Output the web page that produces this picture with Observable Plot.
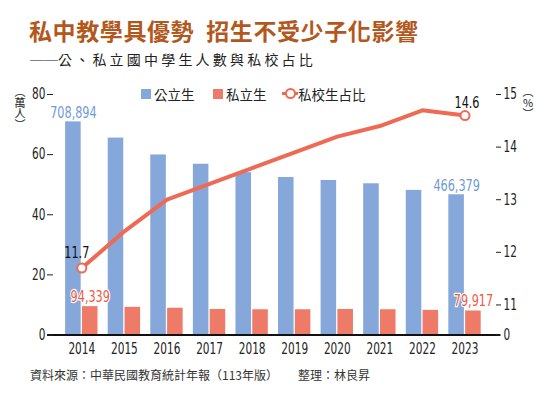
<!DOCTYPE html>
<html><head><meta charset="utf-8">
<script src="https://cdn.jsdelivr.net/npm/d3@7"></script>
<script src="https://cdn.jsdelivr.net/npm/@observablehq/plot@0.6"></script>
<style>
body{margin:0;background:#fff;width:550px;height:399px;position:relative;overflow:hidden;font-family:"Noto Sans CJK TC","Noto Sans",sans-serif;}
#title{position:absolute;left:29px;top:13px;font-size:23px;font-weight:700;color:#b3581d;letter-spacing:0.6px;white-space:nowrap;line-height:34px}
#title .gap{display:inline-block;width:12px}
#sub{position:absolute;left:30px;top:49px;font-size:14px;color:#222;letter-spacing:3.2px;line-height:20px;white-space:nowrap}
#sub .dash{letter-spacing:0}
#chart{position:absolute;left:0;top:72px}
.lg{position:absolute;font-size:13.5px;line-height:18px;top:85px;color:#222;white-space:nowrap}
.sw{position:absolute;width:10px;height:10px;top:89px}
#lineicon{position:absolute;left:282px;top:92px;width:16px;height:3px;background:#ee6a55}
#lineicon::after{content:"";position:absolute;left:3px;top:-4px;width:7px;height:7px;border:2px solid #ee6a55;border-radius:50%;background:#fff}
.vt{position:absolute;font-size:11px;line-height:14px;color:#222;writing-mode:vertical-rl;text-orientation:upright;white-space:nowrap}
#cap{position:absolute;left:30px;top:366px;font-size:12px;line-height:18px;color:#333;white-space:nowrap}
</style></head>
<body>
<div id="title"></div>
<div id="sub"></div>
<div id="chart"></div>
<div class="sw" style="left:141px;background:#86a7d9"></div>
<div class="lg" style="left:154px" id="lg1"></div>
<div class="sw" style="left:213px;background:#ee7a68"></div>
<div class="lg" style="left:226px" id="lg2"></div>
<div id="lineicon"></div>
<div class="lg" style="left:298px" id="lg3"></div>
<div class="vt" style="left:13px;top:86px" id="ylabL"></div>
<div class="vt" style="left:521px;top:86px" id="ylabR"></div>
<div id="cap"></div>
<script>
// ---- text ----
const titleParts = ["私中教學具優勢", "招生不受少子化影響"];
const subtitleDash = "──";
const subtitleText = "公、私立國中學生人數與私校占比";
const seriesNames = ["公立生", "私立生", "私校生占比"];
const leftUnit = "︵萬人︶";
const rightUnit = "︵%︶";
const sourceText = "資料來源：中華民國教育統計年報（113年版）";
const editorText = "整理：林良昇";

// ---- data ----
const years = [2014, 2015, 2016, 2017, 2018, 2019, 2020, 2021, 2022, 2023];
const publicStudents = [70.89, 65.5, 59.9, 56.8, 54.0, 52.4, 51.4, 50.3, 48.1, 46.64]; // 萬人
const privateStudents = [9.43, 9.2, 8.9, 8.5, 8.4, 8.4, 8.5, 8.4, 8.2, 7.99];         // 萬人
const privateShare = [11.7, 12.4, 13.0, 13.3, 13.6, 13.9, 14.2, 14.4, 14.7, 14.6];     // %
const publicLabels = ["708,894", "466,379"];
const privateLabels = ["94,339", "79,917"];
const leftTicks = [0, 20, 40, 60, 80];
const rightTicks = [11, 12, 13, 14, 15];

// colours
const BLUE = "#86a7d9", RED = "#ee7a68", LINE = "#ee6a55";
const BLUE_T = "#6f9ad6", RED_T = "#ef5a45";

document.getElementById("title").innerHTML = titleParts[0] + "<span class='gap'> </span>" + titleParts[1];
document.getElementById("sub").innerHTML = "<span class='dash'>" + subtitleDash + "</span>" + subtitleText;
document.getElementById("lg1").textContent = seriesNames[0];
document.getElementById("lg2").textContent = seriesNames[1];
document.getElementById("lg3").textContent = seriesNames[2];
document.getElementById("ylabL").textContent = leftUnit;
document.getElementById("ylabR").textContent = rightUnit;
document.getElementById("cap").innerHTML = sourceText + "<span style='margin-left:20px'>" + editorText + "</span>";

// right (broken) axis: 11% sits at 10 on the left scale, 15% at 80
const toLeft = p => 10 + (p - 11) * 17.5;
const fromLeft = v => v === 0 ? 0 : Math.round(11 + (v - 10) / 17.5);

const data = years.map((y, i) => ({year: y, pub: publicStudents[i], priv: privateStudents[i], share: privateShare[i]}));
const first = data[0], last = data[data.length - 1];
const pubLab = [first, last].map((d, i) => ({...d, label: publicLabels[i]}));
const privLab = [first, last].map((d, i) => ({...d, label: privateLabels[i]}));

const NUM = "'DejaVu Sans Condensed','DejaVu Sans',sans-serif";
const bw = 0.365, gap = 0.015;

const chart = Plot.plot({
  width: 550,
  height: 290,
  marginLeft: 53,
  marginRight: 55,
  marginTop: 22,
  marginBottom: 27.5,
  style: {fontFamily: NUM, fontSize: "14px", color: "#222", background: "transparent"},
  x: {type: "linear", domain: [2013.335, 2023.716]},
  y: {domain: [0, 80]},
  marks: [
    Plot.rectY(data, {x1: d => d.year - gap - bw, x2: d => d.year - gap, y: "pub", fill: BLUE}),
    Plot.rectY(data, {x1: d => d.year + gap, x2: d => d.year + gap + bw, y: "priv", fill: RED}),
    Plot.ruleY([0], {stroke: "#111", strokeWidth: 2, insetLeft: -6, insetRight: -5}),
    Plot.axisX({ticks: years, tickFormat: d => String(d), tickSize: 0, tickPadding: 8, fontSize: 15, label: null}),
    Plot.axisY({ticks: leftTicks, tickSize: 6, tickPadding: 2, fontSize: 15, label: null}),
    Plot.axisY({anchor: "right", ticks: [0, ...rightTicks.map(toLeft)], tickFormat: fromLeft, tickSize: 5, tickPadding: 3, fontSize: 15, label: null}),
    Plot.line(data, {x: "year", y: d => toLeft(d.share), stroke: LINE, strokeWidth: 4, strokeLinejoin: "round"}),
    Plot.dot([first, last], {x: "year", y: d => toLeft(d.share), r: 4.5, fill: "white", stroke: LINE, strokeWidth: 2}),
    Plot.text([first], {x: "year", y: d => toLeft(d.share), text: d => d.share.toFixed(1), fill: "#111", fontSize: 16, fontWeight: 500, dx: -5, dy: -15}),
    Plot.text([last], {x: "year", y: d => toLeft(d.share), text: d => d.share.toFixed(1), fill: "#111", fontSize: 16, fontWeight: 500, dx: 2, dy: -13}),
    Plot.text(pubLab, {x: d => d.year - gap - bw / 2, y: "pub", text: "label", fill: BLUE_T, fontSize: 16, dy: -9}),
    Plot.text(privLab, {x: d => d.year + gap + bw / 2, y: "priv", text: "label", fill: RED_T, fontSize: 16, dy: -10, stroke: "white", strokeWidth: 2.5})
  ]
});
document.getElementById("chart").appendChild(chart);
// condense the numeric labels (the reference uses a narrow face)
chart.querySelectorAll("text").forEach(t => {
  const len = t.getComputedTextLength();
  if (len > 0) { t.setAttribute("textLength", (len * 0.78).toFixed(2)); t.setAttribute("lengthAdjust", "spacingAndGlyphs"); }
});
</script>
</body></html>
